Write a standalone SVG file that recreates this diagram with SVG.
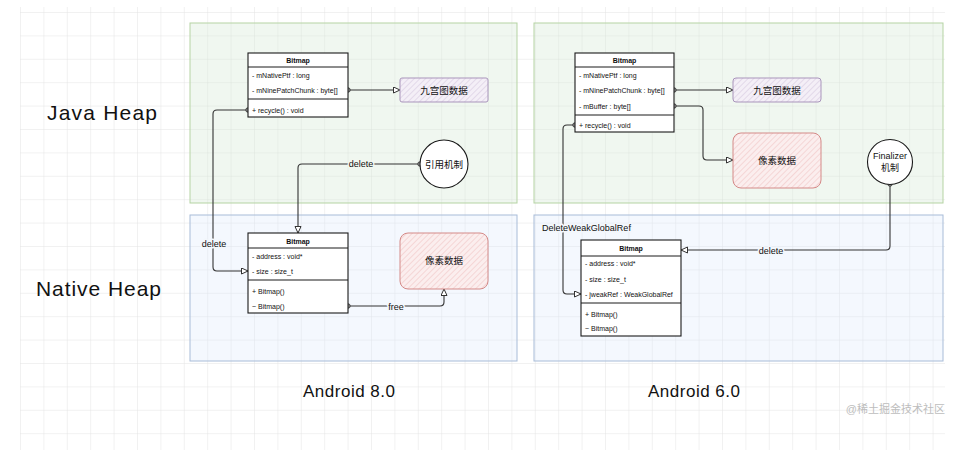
<svg xmlns="http://www.w3.org/2000/svg" width="957" height="457" viewBox="0 0 957 457">
<style>
.panelG{fill:#d5e8d4;fill-opacity:.35;stroke:#b5d3a3;stroke-width:1}
.panelB{fill:#dae8fc;fill-opacity:.3;stroke:#a8bcd8;stroke-width:1}
.cls{fill:#fff;stroke:#1a1a1a;stroke-width:1.1}
.sep{stroke:#1a1a1a;stroke-width:1}
.title{font-family:"Liberation Sans",Arial,sans-serif;font-size:7px;font-weight:bold;fill:#111;text-anchor:middle}
.row{font-family:"Liberation Sans",Arial,sans-serif;font-size:7px;fill:#111}
.cn{font-family:"Liberation Sans","Noto Sans CJK SC",sans-serif;font-size:9.5px;fill:#111;text-anchor:middle}
.lbl{font-family:"Liberation Sans",Arial,sans-serif;font-size:9px;fill:#111;text-anchor:middle;stroke-width:3;paint-order:stroke;stroke-linejoin:round}
.hand{font-family:"Liberation Sans",Arial,sans-serif;fill:#111}
.edge{fill:none;stroke:#333;stroke-width:1.1;marker-start:url(#dot);marker-end:url(#arr)}
</style>
<defs>
<pattern id="grid" patternUnits="userSpaceOnUse" x="20" y="12" width="23.4" height="23.4">
<path d="M23.4 0 L0 0 0 23.4" fill="none" stroke="#e4e4e4" stroke-width="1"/>
</pattern>
<pattern id="hatchP" patternUnits="userSpaceOnUse" width="4" height="4" patternTransform="rotate(45)">
<line x1="0" y1="0" x2="0" y2="4" stroke="#c9b6d4" stroke-width="0.8"/>
</pattern>
<pattern id="hatchR" patternUnits="userSpaceOnUse" width="4" height="4" patternTransform="rotate(45)">
<line x1="0" y1="0" x2="0" y2="4" stroke="#ecb3b1" stroke-width="0.8"/>
</pattern>
<marker id="arr" markerUnits="userSpaceOnUse" markerWidth="8" markerHeight="8" refX="7" refY="3.5" orient="auto">
<path d="M0.5,0.5 L7,3.5 L0.5,6.5 z" fill="#fff" stroke="#333" stroke-width="1"/>
</marker>
<marker id="dot" markerUnits="userSpaceOnUse" markerWidth="7" markerHeight="7" refX="3.5" refY="3.5" orient="auto">
<circle cx="3.5" cy="3.5" r="2.2" fill="#999" stroke="#333" stroke-width="0.9"/>
</marker>
</defs>
<rect width="957" height="457" fill="#fff"/>
<rect x="20" y="7" width="925" height="443" fill="url(#grid)"/>

<g id="heap-labels">
<text class="hand" x="47" y="120" font-size="21" textLength="110">Java Heap</text>
<text class="hand" x="36" y="296" font-size="21" textLength="125">Native Heap</text>
<text class="hand" x="303" y="397" font-size="17" textLength="92">Android 8.0</text>
<text class="hand" x="648" y="397" font-size="17" textLength="92">Android 6.0</text>
<text x="945" y="413" text-anchor="end" font-family="'Liberation Sans','Noto Sans CJK SC',sans-serif" font-size="11" fill="#bdbdbd">@稀土掘金技术社区</text>
</g>

<g id="panels">
<rect id="java-heap-80" class="panelG" x="190" y="23" width="327" height="180"/>
<rect id="native-heap-80" class="panelB" x="190" y="215" width="327" height="146"/>
<rect id="java-heap-60" class="panelG" x="534" y="23" width="409" height="180"/>
<rect id="native-heap-60" class="panelB" x="534" y="215" width="409" height="146"/>
</g>

<g id="connectors">
<path class="edge" d="M248,110 H217 Q213,110 213,114 V267 Q213,271 217,271 H248"/>
<path class="edge" d="M420,164 H302 Q298,164 298,168 V233"/>
<path class="edge" d="M348,90 H400"/>
<path class="edge" d="M348,306 H440 Q444,306 444,302 V289"/>
<path class="edge" d="M674,90 H733"/>
<path class="edge" d="M674,106 H699 Q703,106 703,110 V156 Q703,160 707,160 H733"/>
<path class="edge" d="M575,125 H567 Q563,125 563,129 V290 Q563,294 567,294 H581"/>
<path class="edge" d="M890,184 V246 Q890,250 886,250 H681"/>
<text class="lbl" x="361" y="167" stroke="#f2f7ef">delete</text>
<text class="lbl" x="214" y="247" stroke="#f3f7fc">delete</text>
<text class="lbl" x="396" y="310" stroke="#f3f7fc">free</text>
<text class="lbl" x="771" y="254" stroke="#f3f7fc">delete</text>
<text class="lbl" x="542" y="231" stroke="#f3f7fc" style="text-anchor:start">DeleteWeakGlobalRef</text>
</g>

<g id="java-bitmap-80">
<rect class="cls" x="248" y="53" width="100" height="64"/>
<line class="sep" x1="248" y1="67" x2="348" y2="67"/>
<line class="sep" x1="248" y1="99" x2="348" y2="99"/>
<text class="title" x="298" y="62.5">Bitmap</text>
<text class="row" x="252" y="77.5">- mNativePtf : long</text>
<text class="row" x="252" y="92.5">- mNinePatchChunk : byte[]</text>
<text class="row" x="252" y="112.5">+ recycle() : void</text>
</g>

<g id="ninepatch-80">
<rect x="400" y="78" width="88" height="24" rx="2" fill="#f4eff7"/>
<rect x="400" y="78" width="88" height="24" rx="2" fill="url(#hatchP)" stroke="#a995bb" stroke-width="1"/>
<text class="cn" x="444" y="93.5">九宫图数据</text>
</g>

<g id="ref-mechanism">
<circle cx="444" cy="164" r="24" fill="#fff" stroke="#1a1a1a" stroke-width="1.1"/>
<text class="cn" x="444" y="167.5">引用机制</text>
</g>

<g id="native-bitmap-80">
<rect class="cls" x="248" y="233" width="100" height="80"/>
<line class="sep" x1="248" y1="248" x2="348" y2="248"/>
<line class="sep" x1="248" y1="280" x2="348" y2="280"/>
<text class="title" x="298" y="243.5">Bitmap</text>
<text class="row" x="252" y="258.5">- address : void*</text>
<text class="row" x="252" y="273.5">- size : size_t</text>
<text class="row" x="252" y="293.5">+ Bitmap()</text>
<text class="row" x="252" y="308.5">~ Bitmap()</text>
</g>

<g id="pixels-80">
<rect x="400" y="233" width="88" height="56" rx="8" fill="#fbeeee"/>
<rect x="400" y="233" width="88" height="56" rx="8" fill="url(#hatchR)" stroke="#d48a88" stroke-width="1"/>
<text class="cn" x="444" y="264">像素数据</text>
</g>

<g id="java-bitmap-60">
<rect class="cls" x="575" y="53" width="99" height="79"/>
<line class="sep" x1="575" y1="67" x2="674" y2="67"/>
<line class="sep" x1="575" y1="115" x2="674" y2="115"/>
<text class="title" x="624.5" y="62.5">Bitmap</text>
<text class="row" x="579" y="77.5">- mNativePtf : long</text>
<text class="row" x="579" y="92.5">- mNinePatchChunk : byte[]</text>
<text class="row" x="579" y="108.5">- mBuffer : byte[]</text>
<text class="row" x="579" y="127.5">+ recycle() : void</text>
</g>

<g id="ninepatch-60">
<rect x="733" y="78" width="88" height="24" rx="3" fill="#f4eff7"/>
<rect x="733" y="78" width="88" height="24" rx="3" fill="url(#hatchP)" stroke="#a995bb" stroke-width="1"/>
<text class="cn" x="777" y="93.5">九宫图数据</text>
</g>

<g id="pixels-60">
<rect x="733" y="133" width="88" height="55" rx="8" fill="#fbeeee"/>
<rect x="733" y="133" width="88" height="55" rx="8" fill="url(#hatchR)" stroke="#d48a88" stroke-width="1"/>
<text class="cn" x="777" y="163.5">像素数据</text>
</g>

<g id="finalizer">
<circle cx="890" cy="162" r="22.5" fill="#fff" stroke="#1a1a1a" stroke-width="1.1"/>
<text class="cn" x="890" y="158.5" style="font-size:9px">Finalizer</text>
<text class="cn" x="890" y="170.5" style="font-size:9px">机制</text>
</g>

<g id="native-bitmap-60">
<rect class="cls" x="581" y="240" width="100" height="96"/>
<line class="sep" x1="581" y1="256" x2="681" y2="256"/>
<line class="sep" x1="581" y1="303" x2="681" y2="303"/>
<text class="title" x="631" y="250.5">Bitmap</text>
<text class="row" x="585" y="265.5">- address : void*</text>
<text class="row" x="585" y="281.5">- size : size_t</text>
<text class="row" x="585" y="296.5">- jweakRef : WeakGlobalRef</text>
<text class="row" x="585" y="316.5">+ Bitmap()</text>
<text class="row" x="585" y="330.5">~ Bitmap()</text>
</g>
</svg>
